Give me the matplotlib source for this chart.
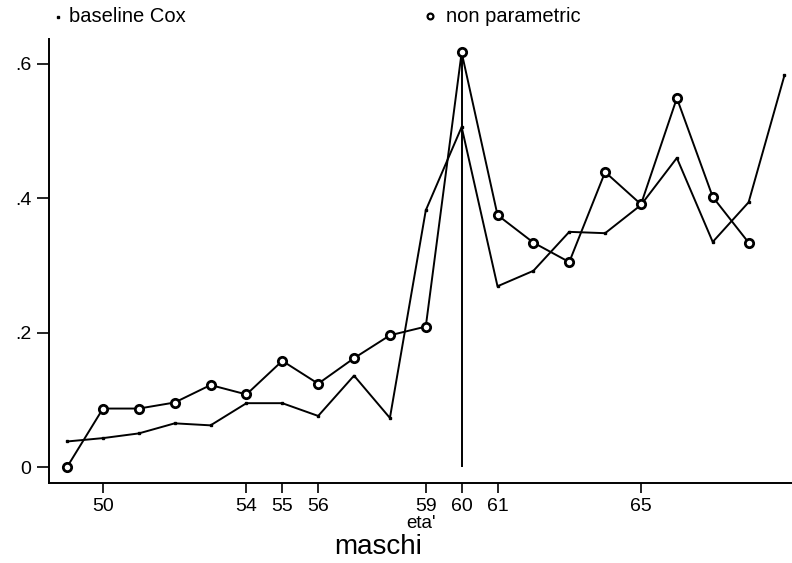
import matplotlib
matplotlib.use('Agg')
import matplotlib.pyplot as plt
from matplotlib.lines import Line2D
import numpy as np

# ages (eta') and the two hazard estimates for males
ages = [49, 50, 51, 52, 53, 54, 55, 56, 57, 58, 59, 60, 61, 62, 63, 64, 65, 66, 67, 68, 69]
baseline_cox = [0.038, 0.043, 0.050, 0.065, 0.062, 0.095, 0.095, 0.076, 0.136, 0.073,
                0.382, 0.506, 0.269, 0.292, 0.350, 0.348, 0.390, 0.460, 0.335, 0.394, 0.583]
np_ages = [49, 50, 51, 52, 53, 54, 55, 56, 57, 58, 59, 60, 61, 62, 63, 64, 65, 66, 67, 68]
non_parametric = [0.0, 0.087, 0.087, 0.096, 0.122, 0.108, 0.158, 0.124, 0.162, 0.196,
                  0.209, 0.617, 0.375, 0.334, 0.305, 0.439, 0.391, 0.549, 0.402, 0.334]

xticks = [50, 54, 55, 56, 59, 60, 61, 65]
yticks = [0, 0.2, 0.4, 0.6]
ytick_labels = ['0', '.2', '.4', '.6']

plt.rcParams['font.family'] = ['Liberation Sans', 'DejaVu Sans']

fig = plt.figure(figsize=(7.92, 5.63), dpi=100)
ax = fig.add_axes([0.0622, 0.1421, 0.9378, 0.7886])

ax.plot(ages, baseline_cox, color='black', lw=1.4, marker='s', ms=1.5,
        mfc='black', mec='black', zorder=3)
ax.plot(np_ages, non_parametric, color='black', lw=1.4, marker='o', ms=6.0,
        mfc='white', mec='black', mew=2.0, zorder=4)

# spike at age 60
i60 = np_ages.index(60)
ax.vlines(60, 0, non_parametric[i60], color='black', lw=1.4, zorder=2)

ax.set_xlim(48.503, 69.21)
ax.set_ylim(-0.0238, 0.637)
ax.set_xticks(xticks)
ax.set_xticklabels([str(t) for t in xticks])
ax.set_yticks(yticks)
ax.set_yticklabels(ytick_labels)
ax.tick_params(axis='x', direction='out', length=7, width=1.2, pad=4, labelsize=14)
ax.tick_params(axis='y', direction='out', length=9, width=1.2, pad=4, labelsize=14)

for side in ['top', 'right']:
    ax.spines[side].set_visible(False)
for side in ['left', 'bottom']:
    ax.spines[side].set_linewidth(1.4)

ax.set_xlabel("eta'", fontsize=13.5)
ax.xaxis.set_label_coords(0.5, -0.073)

fig.text(378 / 792, 1 - 547 / 563, 'maschi', fontsize=20, ha='center', va='center')

# key across the top
W, H = 792, 563
fig.add_artist(Line2D([58 / W], [1 - 17 / H], marker='s', ms=1.6, color='black',
                      transform=fig.transFigure))
fig.text(69 / W, 1 - 17 / H, 'baseline Cox', fontsize=14.5, va='center', ha='left')
fig.add_artist(Line2D([430 / W], [1 - 16 / H], marker='o', ms=4.2, mfc='white',
                      mec='black', mew=1.6, transform=fig.transFigure))
fig.text(446 / W, 1 - 17 / H, 'non parametric', fontsize=14.5, va='center', ha='left')

fig.savefig('out.png', dpi=100, facecolor='white')
